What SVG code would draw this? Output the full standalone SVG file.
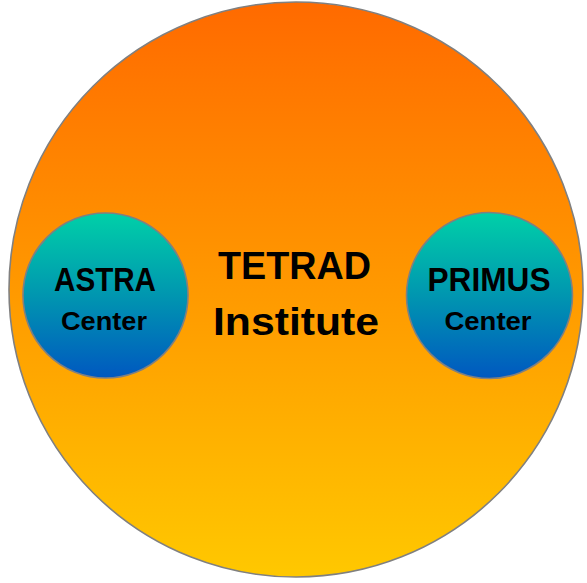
<svg xmlns="http://www.w3.org/2000/svg" width="587" height="583" viewBox="0 0 587 583">
<defs>
<linearGradient id="gBig" x1="0" y1="0" x2="0" y2="1">
<stop offset="0" stop-color="#ff6a00"/>
<stop offset="1" stop-color="#ffc800"/>
</linearGradient>
<linearGradient id="gSmall" x1="0" y1="0" x2="0" y2="1">
<stop offset="0" stop-color="#00d0a8"/>
<stop offset="0.5" stop-color="#0096b0"/>
<stop offset="1" stop-color="#0058c0"/>
</linearGradient>
<style>
.edge{stroke:#808080;stroke-width:1.6}
.t{font-family:"Liberation Sans",Arial,sans-serif;font-weight:bold;fill:#000;text-anchor:middle}
</style>
</defs>
<rect width="587" height="583" fill="#fff"/>
<g id="tetrad">
<ellipse cx="296" cy="289.5" rx="287" ry="287.5" fill="url(#gBig)" class="edge"/>
<text class="t" x="294.5" y="278.5" font-size="39" textLength="153" lengthAdjust="spacingAndGlyphs">TETRAD</text>
<text class="t" x="296" y="335" font-size="39" textLength="166" lengthAdjust="spacingAndGlyphs">Institute</text>
</g>
<g id="astra">
<circle cx="105.5" cy="295.5" r="82.5" fill="url(#gSmall)" class="edge"/>
<text class="t" x="105" y="291" font-size="33" textLength="102" lengthAdjust="spacingAndGlyphs">ASTRA</text>
<text class="t" x="104" y="330" font-size="26" textLength="86" lengthAdjust="spacingAndGlyphs">Center</text>
</g>
<g id="primus">
<circle cx="489.5" cy="295.5" r="83" fill="url(#gSmall)" class="edge"/>
<text class="t" x="489" y="291" font-size="33" textLength="123" lengthAdjust="spacingAndGlyphs">PRIMUS</text>
<text class="t" x="488" y="330" font-size="26" textLength="87" lengthAdjust="spacingAndGlyphs">Center</text>
</g>
<g id="connectors"/>
</svg>
